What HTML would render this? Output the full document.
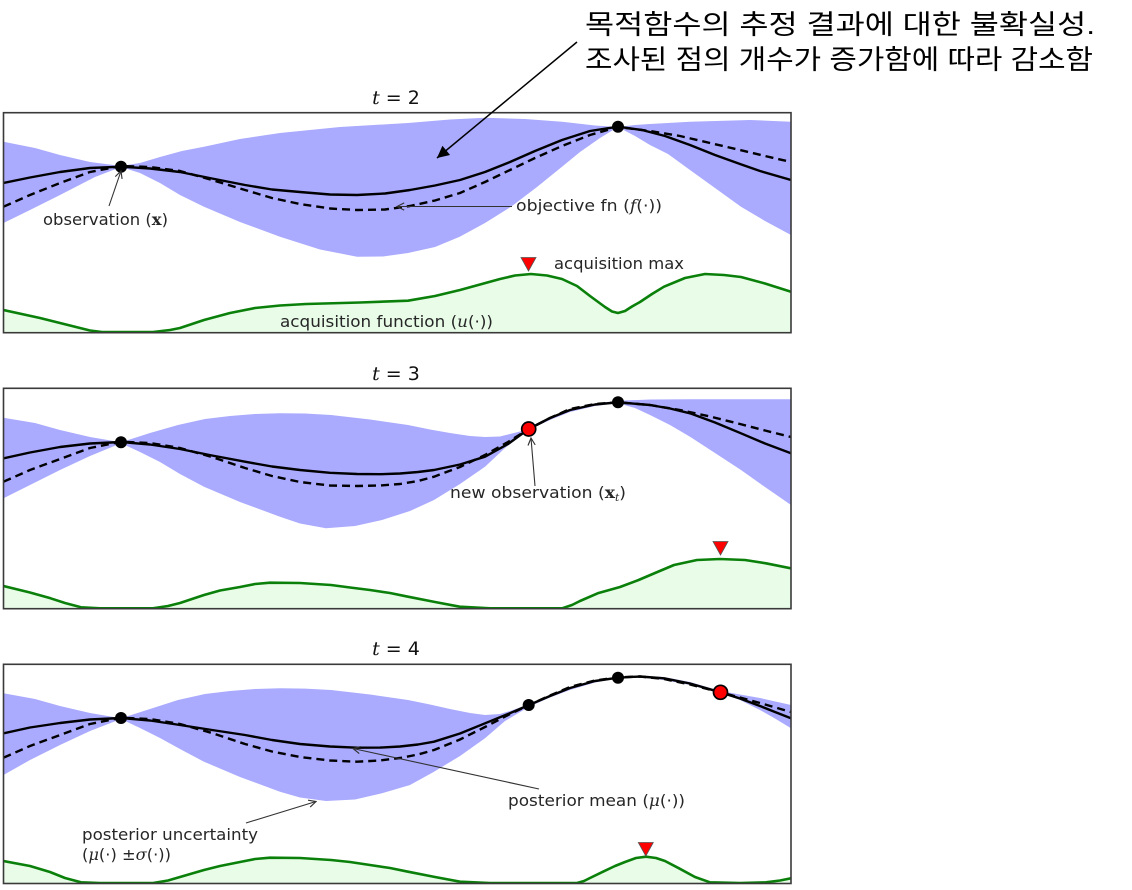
<!DOCTYPE html>
<html><head><meta charset="utf-8">
<style>
html,body{margin:0;padding:0;background:#fff;}
svg{display:block;}
.lbl{font-family:"DejaVu Sans","Liberation Sans",sans-serif;font-size:16px;fill:#262626;}
.ttl{font-family:"DejaVu Sans","Liberation Sans",sans-serif;font-size:19px;fill:#111;}
.it{font-family:"DejaVu Serif","Liberation Serif",serif;font-style:italic;}
.bd{font-family:"DejaVu Serif","Liberation Serif",serif;font-weight:bold;}
.kr{font-family:"Liberation Sans","Noto Sans CJK KR",sans-serif;font-size:27px;fill:#000;}
.band{fill:#aaaaff;stroke:none;}
.gf{fill:#e8fce8;stroke:none;}
.gl{fill:none;stroke:#0a800a;stroke-width:2.6;stroke-linejoin:round;}
.mn{fill:none;stroke:#000;stroke-width:2.4;stroke-linejoin:round;}
.ds{fill:none;stroke:#000;stroke-width:2.4;stroke-dasharray:8,5;stroke-linejoin:round;}
</style></head>
<body>
<svg width="1132" height="890" viewBox="0 0 1132 890" xmlns="http://www.w3.org/2000/svg">
<defs>
<clipPath id="c1"><rect x="3.5" y="112.7" width="787.5" height="220"/></clipPath>
<clipPath id="c2"><rect x="3.5" y="388.3" width="787.5" height="220.4"/></clipPath>
<clipPath id="c3"><rect x="3.5" y="664.3" width="787.5" height="219.2"/></clipPath>
<marker id="ah" viewBox="0 0 10 10" refX="9" refY="5" markerWidth="9" markerHeight="9" orient="auto" markerUnits="userSpaceOnUse">
<path d="M1,1 L9,5 L1,9" fill="none" stroke="#333" stroke-width="1.3"/></marker>
<marker id="bh" viewBox="0 0 10 10" refX="10" refY="5" markerWidth="16" markerHeight="12" orient="auto" markerUnits="userSpaceOnUse">
<path d="M0,0 L10,5 L0,10 Z" fill="#000"/></marker>
</defs>

<!-- Korean annotation -->
<text class="kr" x="585" y="34" textLength="510" lengthAdjust="spacingAndGlyphs">목적함수의 추정 결과에 대한 불확실성.</text>
<text class="kr" x="585" y="69" textLength="508" lengthAdjust="spacingAndGlyphs">조사된 점의 개수가 증가함에 따라 감소함</text>

<!-- Titles -->
<text class="ttl" x="396" y="104" text-anchor="middle"><tspan class="it">t</tspan> = 2</text>
<text class="ttl" x="396" y="380" text-anchor="middle"><tspan class="it">t</tspan> = 3</text>
<text class="ttl" x="396" y="655" text-anchor="middle"><tspan class="it">t</tspan> = 4</text>

<!-- Panel 1 -->
<g clip-path="url(#c1)">
<polygon class="band" points="3.5,141.7 35,148 60,155 90,162 121,166 140,163 160,157 182,151 204,146.7 240,139 280,133 340,127 408,123 450,119.5 485,117.7 525,119 562,121.7 595,125.5 618,127 635,125 650,124 690,121.7 750,120 791,121.7 791,235 765,221 741,206.7 715,188 690,170 668,154 650,145 635,136 618,127 600,138 580,152 562,166.7 537,187 511,206.7 485,223 459.7,236.7 435,247 408,253 383,256.5 357,256.7 320,249.5 280,236.7 240,222 204,206.7 180,195 160,183 140,173 121,167 95,177 60,195 30,210 3.5,223"/>
<polygon class="gf" points="3.5,310 40,318 60,323 76,327 90,330.5 102,332 153,332 170,330 180,328 204,320 230,313 255,308 280,305.5 306,304 360,302.5 408,300.7 435,296 460,290 480,284.5 500,279 515,275.5 531,274 547,275.5 562,279 577,286 590,296 605,307 612,311.5 618,313 625,311 632,306.5 640,302 652,294 664,286.7 685,278 705,274 724,275 741,277 765,283.5 791,291.7 791,335 3.5,335"/>
<polyline class="gl" points="3.5,310 40,318 60,323 76,327 90,330.5 102,332 153,332 170,330 180,328 204,320 230,313 255,308 280,305.5 306,304 360,302.5 408,300.7 435,296 460,290 480,284.5 500,279 515,275.5 531,274 547,275.5 562,279 577,286 590,296 605,307 612,311.5 618,313 625,311 632,306.5 640,302 652,294 664,286.7 685,278 705,274 724,275 741,277 765,283.5 791,291.7"/>
<polyline class="ds" points="3.5,206.7 30,195 60,183 90,172 121,166 150,167 180,171 212,180 245,190 272,198 300,204 330,208.5 357,210 385,209.5 410,206 435,200.5 460,193 485,182 510,170 535,158 562,146 590,135 618,127 650,131 680,136 710,143 740,150 765,156 791,162"/>
<polyline class="mn" points="3.5,183 30,177.5 60,172 90,168 121,166.7 150,168.5 180,172 212,178.5 245,185 272,189.5 300,192 330,194.5 357,195 385,193.5 410,190 435,185.5 460,180 485,172 510,162 535,151 562,140 590,131 618,126.7 642,130 665,136 690,145 715,155 740,164 760,171 791,180"/>
</g>

<!-- Panel 2 -->
<g clip-path="url(#c2)">
<polygon class="band" points="3.5,417.7 35,423 60,430 90,437 121,442.3 150,433 178,425 205,419 230,416 255,414 280,413.3 305,413.5 331,415 370,419.5 408,425 430,429.5 450,433 470,436 485,437 500,436.5 510,434 520,431.5 528.7,429 550,419 570,410 595,403.5 618,400.7 650,399.5 690,399.3 791,399.3 791,505 765,487 741,470 715,453 690,436.7 670,425 650,415 635,408 618,403.3 595,406 570,412 550,420 528.7,430 505,448 485,466.7 460,484 434,500 410,511 382,520 355,526 326,528.3 300,523.5 280,516.7 240,502 204,486.7 180,474 160,462 140,452 121,443.3 90,456 60,470 30,485 3.5,498.3"/>
<polygon class="gf" points="3.5,586 30,592.5 50.6,598.3 65,603 81,607.3 100,608.3 153,608.3 168,606 180,603 204,595 220,590.5 240,587 255,584 270,582.7 300,583 331,585 350,587.5 370,590 390,593 408,596.7 435,602 459.7,606.7 490,608.3 562,608.3 572,605 580,601 597.7,593.3 620,587 638.6,580 655,573 674,565 697,560 720,559 745,560 766,563.3 791,568.3 791,611 3.5,611"/>
<polyline class="gl" points="3.5,586 30,592.5 50.6,598.3 65,603 81,607.3 100,608.3 153,608.3 168,606 180,603 204,595 220,590.5 240,587 255,584 270,582.7 300,583 331,585 350,587.5 370,590 390,593 408,596.7 435,602 459.7,606.7 490,608.3 562,608.3 572,605 580,601 597.7,593.3 620,587 638.6,580 655,573 674,565 697,560 720,559 745,560 766,563.3 791,568.3"/>
<polyline class="ds" points="3.5,481.7 30,470 60,459 90,448 121,441.7 150,443 180,448 212,457 245,468 272,476 300,482 330,485.5 357,486 380,485.5 400,484 418,481 434,476.7 460,467 485,455 508,442 528.7,429 550,418 570,409 595,404 618,402.3 650,405 680,410 710,416.5 740,424 765,430.5 791,437"/>
<polyline class="mn" points="3.5,458.3 30,452.5 60,447 90,443.5 121,442 150,444.5 180,449 212,455.5 245,461.7 272,466.5 300,470 330,472.8 357,474 380,474.2 400,473.5 418,472 434,470 460,464.5 485,456.7 508,444 528.7,429 550,418 570,410 595,404.5 618,402.3 650,405 670,408.5 690,413.3 715,422.5 741,433.3 765,443.5 791,453.3"/>
</g>

<!-- Panel 3 -->
<g clip-path="url(#c3)">
<polygon class="band" points="3.5,693.3 35,699 60,706 90,713 121,718.3 150,709 178,700 205,694 230,691 255,689 280,688.3 305,688.6 331,690 370,694.5 408,700 430,704.5 450,709 470,713 485,715 500,714 510,711 520,707.5 529,704.3 550,696 570,688 595,681 618,676.7 640,675.8 664,677 690,682 720.5,691 740,694.5 760,698 791,705 791,728.3 775,718.5 760,710 740,700 720.5,693.3 690,685 664,680 640,677.5 618,678.3 595,682.5 570,690 550,697.5 529,706.7 505,721 485,738.3 460,756 434,771.7 410,785 382,793.3 355,799.5 326,801 300,797.5 280,791.7 240,777 204,761.7 180,749 160,738 140,728 121,719 90,731 60,745 30,760 3.5,775"/>
<polygon class="gf" points="3.5,861 30,866 50,872 65,878 81,882.3 100,883 153,883 168,880.5 180,877 204,870 220,866 240,862 255,859 270,857.7 300,858 331,860 350,862 370,865 390,868 408,871.7 435,877 460,881.7 490,883 577,883 584,881 590,878 603,871.7 615,866 625,862 636,858 646,856.7 656,858 665,861 679,868.3 695,877 710,882.3 740,883 766,882.3 780,880.5 791,878.3 791,886 3.5,886"/>
<polyline class="gl" points="3.5,861 30,866 50,872 65,878 81,882.3 100,883 153,883 168,880.5 180,877 204,870 220,866 240,862 255,859 270,857.7 300,858 331,860 350,862 370,865 390,868 408,871.7 435,877 460,881.7 490,883 577,883 584,881 590,878 603,871.7 615,866 625,862 636,858 646,856.7 656,858 665,861 679,868.3 695,877 710,882.3 740,883 766,882.3 780,880.5 791,878.3"/>
<polyline class="ds" points="3.5,757.7 30,746 60,735 90,724 121,717.7 150,719 180,724 212,733 245,744 272,751.5 300,757 330,760.5 357,761.7 380,760.5 400,758 418,754.5 434,750 460,739.5 485,727 508,715 529,705 550,695.5 570,687 595,680.5 618,677.3 640,676.5 664,679 690,684.5 720.5,692.3 740,697.5 760,703 784,710 791,712"/>
<polyline class="mn" points="3.5,733.3 30,727.5 60,723 90,719.5 121,718 150,720.5 180,725 212,730 245,735 272,740 300,744 330,746.5 357,747.7 380,747.6 400,746.5 418,744.5 434,741.7 460,733.5 485,723.3 508,714 529,705 550,696 570,688 595,681 618,677.7 640,676.5 664,678.3 690,683.5 720.5,692.3 740,698.5 760,706 775,712 791,718.3"/>
</g>

<!-- frames -->
<rect x="3.5" y="112.7" width="787.5" height="220" fill="none" stroke="#3a3a3a" stroke-width="1.6"/>
<rect x="3.5" y="388.3" width="787.5" height="220.4" fill="none" stroke="#3a3a3a" stroke-width="1.6"/>
<rect x="3.5" y="664.3" width="787.5" height="219.2" fill="none" stroke="#3a3a3a" stroke-width="1.6"/>

<!-- markers -->
<circle cx="121" cy="166.7" r="6" fill="#000"/>
<circle cx="618" cy="126.7" r="6" fill="#000"/>
<circle cx="121" cy="442.3" r="6" fill="#000"/>
<circle cx="528.7" cy="429" r="7" fill="#ff0000" stroke="#000" stroke-width="1.7"/>
<circle cx="618" cy="402.3" r="6" fill="#000"/>
<circle cx="121" cy="718" r="6" fill="#000"/>
<circle cx="528.7" cy="705" r="6" fill="#000"/>
<circle cx="618" cy="677.7" r="6" fill="#000"/>
<circle cx="720.5" cy="692.3" r="7" fill="#ff0000" stroke="#000" stroke-width="1.7"/>
<path d="M521,257.5 L536,257.5 L528.5,271 Z" fill="#ff0000" stroke="#555" stroke-width="0.8"/>
<path d="M713,541.5 L728,541.5 L720.5,555 Z" fill="#ff0000" stroke="#555" stroke-width="0.8"/>
<path d="M638.3,842.5 L653.3,842.5 L645.8,856 Z" fill="#ff0000" stroke="#555" stroke-width="0.8"/>

<!-- labels panel 1 -->
<text class="lbl" x="554" y="269" textLength="130" lengthAdjust="spacingAndGlyphs">acquisition max</text>
<text class="lbl" x="280" y="327" textLength="213" lengthAdjust="spacingAndGlyphs">acquisition function (<tspan class="it">u</tspan>(·))</text>
<text class="lbl" x="43" y="225" textLength="125" lengthAdjust="spacingAndGlyphs">observation (<tspan class="bd">x</tspan>)</text>
<text class="lbl" x="516" y="211" textLength="146" lengthAdjust="spacingAndGlyphs">objective fn (<tspan class="it">f</tspan>(·))</text>
<line x1="512" y1="206.5" x2="397" y2="206.5" stroke="#333" stroke-width="1.1" marker-end="url(#ah)"/>
<line x1="109" y1="206" x2="121" y2="171" stroke="#333" stroke-width="1.1" marker-end="url(#ah)"/>

<!-- labels panel 2 -->
<text class="lbl" x="450" y="498" textLength="176" lengthAdjust="spacingAndGlyphs">new observation (<tspan class="bd">x</tspan><tspan class="it" font-size="10" dy="3">t</tspan><tspan dy="-3">)</tspan></text>
<line x1="535" y1="486" x2="531" y2="438" stroke="#333" stroke-width="1.1" marker-end="url(#ah)"/>

<!-- labels panel 3 -->
<text class="lbl" x="508" y="806" textLength="177" lengthAdjust="spacingAndGlyphs">posterior mean (<tspan class="it">μ</tspan>(·))</text>
<line x1="539" y1="789" x2="353" y2="748.5" stroke="#333" stroke-width="1.1" marker-end="url(#ah)"/>
<text class="lbl" x="82" y="840" textLength="176" lengthAdjust="spacingAndGlyphs">posterior uncertainty</text>
<text class="lbl" x="82" y="860" textLength="89" lengthAdjust="spacingAndGlyphs">(<tspan class="it">μ</tspan>(·) ±<tspan class="it">σ</tspan>(·))</text>
<line x1="246" y1="823" x2="316" y2="801.5" stroke="#333" stroke-width="1.1" marker-end="url(#ah)"/>

<!-- main arrow -->
<line x1="577" y1="42" x2="437" y2="158" stroke="#000" stroke-width="1.5" marker-end="url(#bh)"/>
</svg>
</body></html>
